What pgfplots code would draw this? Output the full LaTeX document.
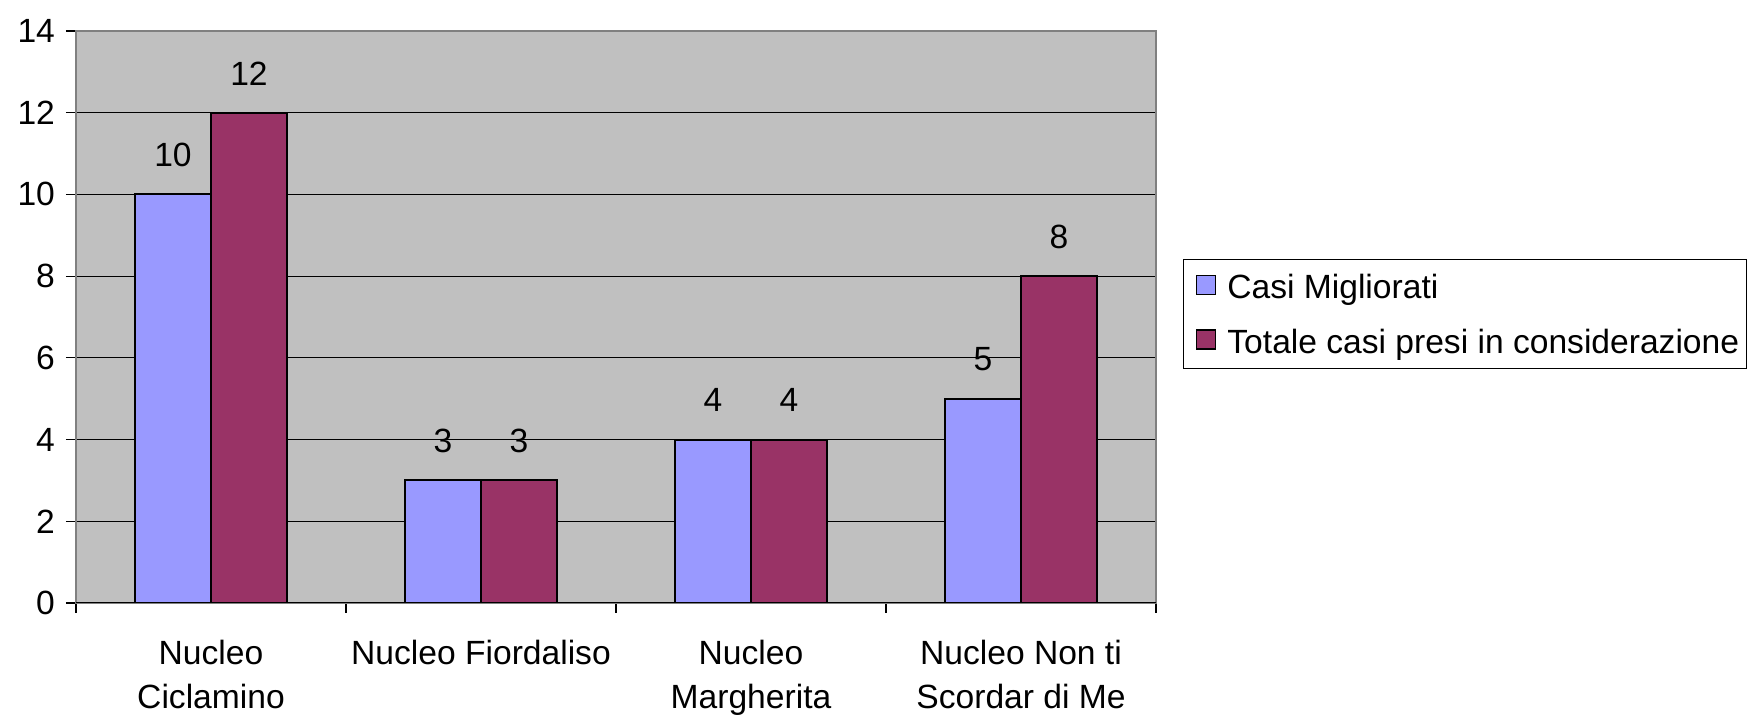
\documentclass[border=0pt]{standalone}
\usepackage{fontspec}
\setmainfont{Liberation Sans}
\usepackage{pgfplots}
\pgfplotsset{compat=1.18}
\definecolor{cBlue}{HTML}{9999FF}
\definecolor{cRed}{HTML}{993366}
\definecolor{cBack}{HTML}{C0C0C0}
\pgfplotsset{
  sqlegend/.style={legend image code/.code={\path[draw=none,fill=none] (0pt,0pt) -- (12.5pt,0pt);\draw[##1,line width=0.8pt] (3pt,-3.9pt) rectangle (12.5pt,5.6pt);}}
}
\begin{document}
\begin{tikzpicture}
\useasboundingbox (0,0) rectangle (875.5pt,357.5pt);
\begin{axis}[
  at={(38pt,56pt)}, anchor=south west,
  scale only axis, width=540pt, height=286pt,
  ybar=0pt, bar width=38pt,
  xmin=-0.5, xmax=3.5, ymin=0, ymax=14,
  ytick={0,2,...,14},
  xtick={0,1,2,3},
  xticklabels={{Nucleo\\Ciclamino},{Nucleo Fiordaliso},{Nucleo\\Margherita},{Nucleo Non ti\\Scordar di Me}},
  minor xtick={-0.5,0.5,1.5,2.5,3.5},
  major x tick style={draw=none},
  xtick pos=bottom, ytick pos=left,
  tick align=outside,
  major tick length=5pt, minor tick length=5pt,
  tick style={black, line width=0.6pt},
  ymajorgrids, major grid style={black, line width=0.6pt},
  axis background/.style={fill=cBack},
  axis line style={draw=gray, line width=0.8pt},
  /pgf/number format/assume math mode=true,
  font=\fontsize{16.8}{20}\selectfont,
  yticklabel style={font=\fontsize{16.8}{20}\selectfont, xshift=-2pt},
  xticklabel style={font=\fontsize{16.8}{22}\selectfont, align=center, yshift=-10pt},
  nodes near coords,
  every node near coord/.append style={font=\fontsize{16.8}{20}\selectfont, black, yshift=10pt},
  legend style={at={(1,0.6014)}, anchor=north west, xshift=13.5pt,
    draw=black, line width=0.6pt, font=\fontsize{16.8}{20}\selectfont,
    inner xsep=3.5pt, inner ysep=7.5pt, row sep=14.9pt,
    nodes={inner sep=0pt, text height=12.2pt, text depth=0pt},
    /tikz/every odd column/.append style={column sep=5.5pt}},
  legend cell align=left,
]
\addplot[fill=cBlue, draw=black, line width=1pt, sqlegend] coordinates {(0,10) (1,3) (2,4) (3,5)};
\addplot[fill=cRed, draw=black, line width=1pt, sqlegend] coordinates {(0,12) (1,3) (2,4) (3,8)};
\legend{Casi Migliorati, Totale casi presi in considerazione}
\draw[black, line width=0.8pt] (rel axis cs:0,0) -- (rel axis cs:1,0);
\end{axis}
\end{tikzpicture}
\end{document}
